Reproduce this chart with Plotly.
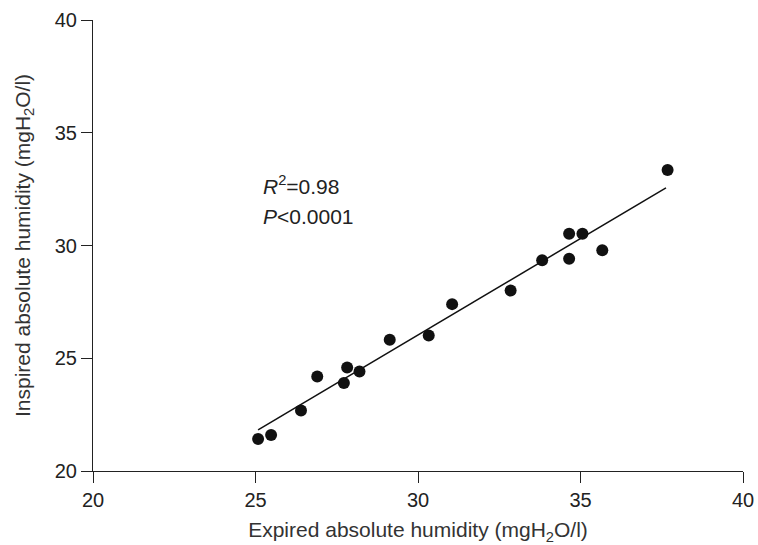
import plotly.graph_objects as go

expired = [25.08, 25.48, 26.40, 26.90, 27.72, 27.82, 28.20, 29.13, 30.33, 31.05,
           32.85, 33.82, 34.65, 34.65, 35.06, 35.67, 37.68]
inspired = [21.42, 21.60, 22.68, 24.19, 23.90, 24.59, 24.41, 25.82, 26.01, 27.40,
            28.00, 29.35, 29.41, 30.52, 30.52, 29.79, 33.35]

fit_x = [25.08, 37.63]
fit_y = [21.82, 32.56]

ticks = [20, 25, 30, 35, 40]

FONT = "Liberation Sans, Arial, sans-serif"

fig = go.Figure()
fig.add_trace(go.Scatter(x=fit_x, y=fit_y, mode="lines",
                         line=dict(color="#111111", width=1.5), showlegend=False))
fig.add_trace(go.Scatter(x=expired, y=inspired, mode="markers",
                         marker=dict(color="#111111", size=12), showlegend=False))

fig.add_annotation(x=25.18, y=32.69, xref="x", yref="y",
                   text="<i>R</i><sup>2</sup>=0.98",
                   showarrow=False, xanchor="left", yanchor="middle", align="left",
                   font=dict(family=FONT, size=21, color="#222222"))
fig.add_annotation(x=25.18, y=31.29, xref="x", yref="y",
                   text="<i>P</i>&lt;0.0001",
                   showarrow=False, xanchor="left", yanchor="middle", align="left",
                   font=dict(family=FONT, size=21, color="#222222"))

axis_common = dict(showgrid=False, zeroline=False, showline=True, linecolor="#222222",
                   linewidth=1.2, ticks="outside", ticklen=11, tickcolor="#222222",
                   tickwidth=1.2, tickvals=ticks, automargin=False,
                   tickfont=dict(family=FONT, size=20, color="#222222"))

fig.update_xaxes(range=[20, 40], title=dict(text="Expired absolute humidity (mgH<sub>2</sub>O/l)",
                 font=dict(family=FONT, size=21, color="#333333"), standoff=12),
                 **axis_common)
fig.update_yaxes(range=[20, 40], title=dict(text="Inspired absolute humidity (mgH<sub>2</sub>O/l)",
                 font=dict(family=FONT, size=21, color="#333333"), standoff=18),
                 **axis_common)

fig.update_layout(width=758, height=545, plot_bgcolor="white", paper_bgcolor="white",
                  font=dict(family=FONT),
                  margin=dict(l=93, r=15, t=20, b=74, autoexpand=False))

fig.write_html("out.html", config={"displayModeBar": False},
               post_script="document.body.style.margin='0';")
